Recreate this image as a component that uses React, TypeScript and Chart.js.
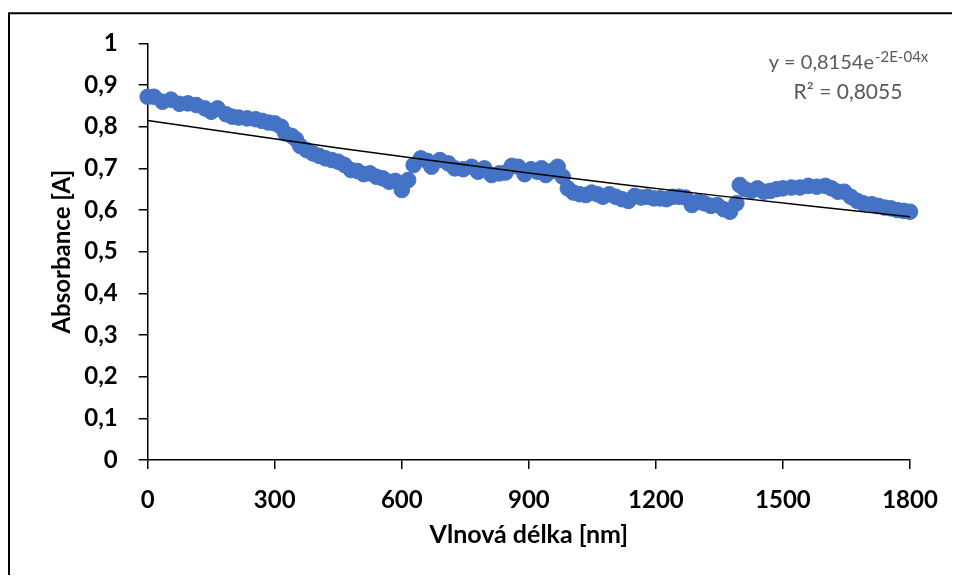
import React, { useEffect, useRef } from "react";
import { Chart, registerables } from "chart.js";

Chart.register(...registerables);

const wavelength = [
  0, 15, 35, 55, 75, 95, 115, 135, 150, 165, 185, 200, 215, 235, 255, 270, 285, 300, 315, 325,
  340, 350, 360, 375, 390, 405, 420, 435, 450, 465, 480, 495, 510, 525, 540, 555, 570, 585, 600, 615,
  628, 645, 660, 670, 690, 710, 725, 745, 765, 780, 795, 812, 830, 845, 860, 875, 890, 905, 920, 930,
  940, 955, 968, 980, 992, 1005, 1020, 1035, 1048, 1062, 1075, 1090, 1105, 1120, 1135, 1150, 1165, 1180, 1195, 1210,
  1225, 1240, 1255, 1270, 1285, 1300, 1315, 1330, 1345, 1360, 1375, 1390, 1398, 1410, 1425, 1440, 1455, 1470, 1485, 1500,
  1520, 1540, 1560, 1580, 1600, 1615, 1630, 1645, 1660, 1675, 1690, 1710, 1725, 1740, 1755, 1770, 1785, 1800,
];

const absorbance = [
  0.872, 0.872, 0.86, 0.865, 0.855, 0.856, 0.852, 0.844, 0.836, 0.844, 0.83, 0.824, 0.822, 0.82, 0.818, 0.814, 0.81, 0.808, 0.8, 0.784,
  0.778, 0.77, 0.754, 0.744, 0.736, 0.73, 0.724, 0.72, 0.716, 0.708, 0.696, 0.694, 0.686, 0.688, 0.68, 0.676, 0.668, 0.67, 0.648, 0.672,
  0.708, 0.724, 0.718, 0.704, 0.72, 0.712, 0.7, 0.698, 0.704, 0.692, 0.7, 0.684, 0.688, 0.69, 0.706, 0.704, 0.686, 0.698, 0.692, 0.7,
  0.684, 0.694, 0.704, 0.68, 0.652, 0.642, 0.638, 0.636, 0.642, 0.638, 0.632, 0.638, 0.632, 0.626, 0.622, 0.634, 0.63, 0.632, 0.628, 0.628,
  0.626, 0.632, 0.632, 0.63, 0.612, 0.62, 0.616, 0.61, 0.612, 0.602, 0.596, 0.616, 0.66, 0.65, 0.646, 0.652, 0.644, 0.646, 0.65, 0.652,
  0.654, 0.654, 0.658, 0.656, 0.658, 0.652, 0.644, 0.644, 0.632, 0.622, 0.616, 0.614, 0.61, 0.606, 0.604, 0.6, 0.598, 0.596,
];

// Trendline
const trendX = [0, 450, 900, 1350, 1800];
const trendY = [0.815, 0.749, 0.689, 0.634, 0.584];

const yTickLabels = ["0", "0,1", "0,2", "0,3", "0,4", "0,5", "0,6", "0,7", "0,8", "0,9", "1"];
const xTickLabels = ["0", "300", "600", "900", "1200", "1500", "1800"];

const equationMain = "y = 0,8154e";
const equationExp = "-2E-04x";
const rSquared = "R² = 0,8055";

const xTitle = "Vlnová délka [nm]";
const yTitle = "Absorbance [A]";

const FONT = "Lato, 'Open Sans', sans-serif";

export default function App() {
  const ref = useRef<HTMLCanvasElement | null>(null);

  useEffect(() => {
    if (!ref.current) return;

    const decor = {
      id: "decor",
      afterDraw(chart: any) {
        const ctx = chart.ctx;
        ctx.save();
        // chart border (top + left visible)
        ctx.strokeStyle = "#000";
        ctx.lineWidth = 2;
        ctx.beginPath();
        ctx.moveTo(1, chart.height + 10);
        ctx.lineTo(1, 5.3);
        ctx.lineTo(chart.width + 10, 5.3);
        ctx.stroke();

        // trendline equation
        ctx.fillStyle = "#595959";
        ctx.textBaseline = "alphabetic";
        ctx.font = `20px ${FONT}`;
        const w1 = ctx.measureText(equationMain).width;
        ctx.font = `15px ${FONT}`;
        const w2 = ctx.measureText(equationExp).width;
        const cx = 840;
        const startX = cx - (w1 + w2) / 2;
        ctx.textAlign = "left";
        ctx.font = `20px ${FONT}`;
        ctx.fillText(equationMain, startX, 61);
        ctx.font = `15px ${FONT}`;
        ctx.fillText(equationExp, startX + w1 + 1, 54);
        ctx.font = `21px ${FONT}`;
        ctx.textAlign = "center";
        ctx.fillText(rSquared, cx, 91);
        ctx.restore();
      },
    };

    const chart = new Chart(ref.current, {
      type: "scatter",
      data: {
        datasets: [
          {
            label: "trend",
            type: "line",
            data: trendX.map((x, i) => ({ x, y: trendY[i] })),
            borderColor: "#000",
            borderWidth: 1.5,
            pointRadius: 0,
            fill: false,
            tension: 0.3,
            clip: false,
            order: 0,
          } as any,
          {
            label: "Absorbance",
            data: wavelength.map((x, i) => ({ x, y: absorbance[i] })),
            backgroundColor: "#4472C4",
            borderColor: "#4472C4",
            borderWidth: 1,
            pointRadius: 7.8,
            pointHoverRadius: 7.8,
            clip: false,
            order: 1,
          } as any,
        ],
      },
      options: {
        animation: false,
        responsive: true,
        maintainAspectRatio: false,
        layout: { padding: { left: 0, top: 35, right: 50, bottom: 0 } },
        plugins: {
          legend: { display: false },
          tooltip: { enabled: false },
        },
        scales: {
          x: {
            type: "linear",
            min: 0,
            max: 1800,
            afterFit: (s: any) => {
              s.height = 115;
            },
            afterBuildTicks: (s: any) => {
              s.ticks = xTickLabels.map((t) => ({ value: Number(t) }));
            },
            ticks: {
              stepSize: 300,
              color: "#000",
              font: { family: FONT, size: 24, weight: "bold" },
              padding: 17,
              maxRotation: 0,
              callback: (v: any) => {
                const i = xTickLabels.indexOf(String(v));
                return i >= 0 ? xTickLabels[i] : "";
              },
            },
            grid: {
              drawOnChartArea: false,
              drawTicks: true,
              tickLength: 9,
              color: "#000",
              lineWidth: 1.5,
            },
            border: { color: "#000", width: 1.5 },
            title: {
              display: true,
              text: xTitle,
              color: "#000",
              font: { family: FONT, size: 25, weight: "bold" },
              padding: { top: 0, bottom: 25 },
            },
          },
          y: {
            min: 0,
            max: 1,
            afterFit: (s: any) => {
              s.width = 139.7;
            },
            ticks: {
              stepSize: 0.1,
              color: "#000",
              font: { family: FONT, size: 24, weight: "bold" },
              padding: 21,
              callback: (v: any) => {
                const i = Math.round(Number(v) * 10);
                return yTickLabels[i] ?? "";
              },
            },
            grid: {
              drawOnChartArea: false,
              drawTicks: true,
              tickLength: 9,
              color: "#000",
              lineWidth: 1.5,
            },
            border: { color: "#000", width: 1.5 },
            title: {
              display: true,
              text: yTitle,
              color: "#000",
              font: { family: FONT, size: 24, weight: "bold" },
              padding: { top: 40, bottom: 0 },
            },
          },
        },
      },
      plugins: [decor],
    });

    return () => chart.destroy();
  }, []);

  return (
    <div style={{ width: 952, height: 567, position: "relative" }}>
      <canvas ref={ref} />
    </div>
  );
}
